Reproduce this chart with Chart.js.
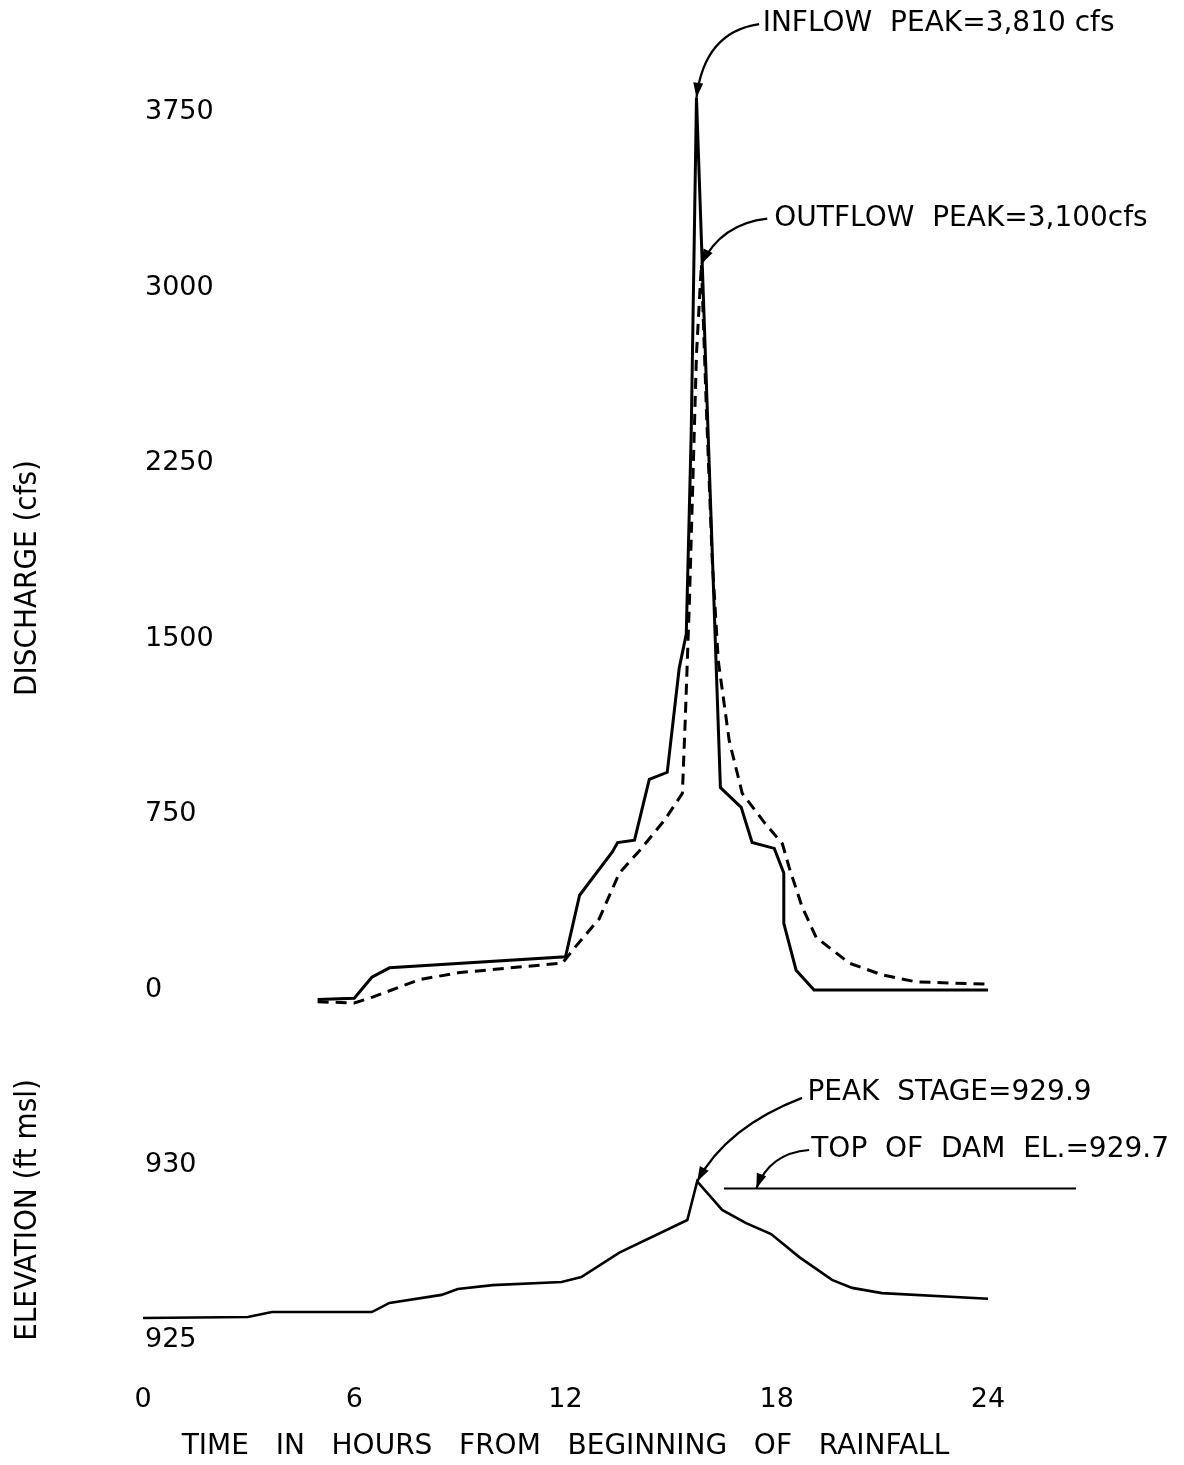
<!DOCTYPE html>
<html>
<head>
<meta charset="utf-8">
<script src="https://cdn.jsdelivr.net/npm/chart.js@4.4.1/dist/chart.umd.min.js"></script>
<style>
  html, body { margin: 0; padding: 0; background: #fff; }
  #wrap { position: relative; width: 1184px; height: 1465px; }
  canvas { position: absolute; left: 0; }
  #topChart { top: 0; }
  #bottomChart { top: 1040px; }
</style>
</head>
<body>
<div id="wrap">
  <canvas id="topChart" width="1184" height="1040"></canvas>
  <canvas id="bottomChart" width="1184" height="425"></canvas>
</div>
<script>
// Inflow hydrograph (solid line)
const inflowHours = [4.96, 6.0, 6.5, 7.0, 12.0, 12.4, 13.33, 13.48, 13.96, 14.38, 14.89, 15.23, 15.43, 15.57, 15.72,
                     16.4, 16.99, 17.3, 17.93, 18.2, 18.2, 18.55, 19.06, 24];
const inflowCfs = [-40, -35, 55, 95, 142, 405, 590, 630, 640, 900, 930, 1375, 1520, 2375, 3810,
                   865, 780, 630, 605, 500, 285, 85, 0, 0];

// Outflow hydrograph (dashed line)
const outflowHours = [4.96, 6.0, 6.52, 7.86, 9.0, 11.91, 12.31, 12.96, 13.53, 14.1, 14.81, 15.32, 15.4, 15.52, 15.72, 15.86,
                      16.0, 16.17, 16.34, 16.65, 17.02, 17.65, 18.16, 18.35, 18.72, 19.12, 20.06, 20.99, 21.96, 24];
const outflowCfs = [-50, -55, -30, 45, 75, 115, 190, 305, 500, 595, 725, 840, 1150, 1660, 2715, 3100,
                    2485, 1830, 1405, 1065, 840, 715, 625, 525, 355, 225, 115, 65, 35, 25];

// Reservoir stage
const stageHours = [0, 2.98, 3.66, 6.5, 7.0, 8.48, 8.94, 9.93, 11.89, 12.45, 13.53, 15.46, 15.74,
                    16.45, 17.13, 17.84, 18.64, 19.57, 20.14, 20.99, 24];
const stageFt = [926.0, 926.03, 926.17, 926.17, 926.43, 926.66, 926.83, 926.94, 927.03, 927.17, 927.87, 928.8, 929.9,
                 929.09, 928.71, 928.4, 927.74, 927.09, 926.86, 926.71, 926.55];

// Top of dam
const damHours = [16.5, 26.5];
const damFt = [929.7, 929.7];

// Tick labels
const hourTicks = [0, 6, 12, 18, 24];
const dischargeTicks = [0, 750, 1500, 2250, 3000, 3750];
const elevationTicks = [925, 930];

const toPoints = (xs, ys) => xs.map((x, i) => ({ x: x, y: ys[i] }));

const INK = '#000';
const labelFont = '"DejaVu Sans", sans-serif';
const narrowFont = '"DejaVu Sans Condensed", "DejaVu Sans", sans-serif';

// Callouts: text start, arrow start, curve bend and arrow tip, all in data units
const topNotes = [
    { text: 'INFLOW  PEAK=3,810 cfs', at: [17.6, 4125], from: [17.5, 4125], bend: [15.94, 4091], tip: [15.72, 3810] },
    { text: 'OUTFLOW  PEAK=3,100cfs', at: [17.93, 3294], from: [17.73, 3294], bend: [16.43, 3273], tip: [15.86, 3100] }
];
const bottomNotes = [
    { text: 'PEAK  STAGE=929.9', at: [18.87, 932.43], from: [18.72, 932.29], bend: [16.57, 931.46], tip: [15.74, 929.9] },
    { text: 'TOP  OF  DAM  EL.=929.7', at: [18.98, 930.8], from: [18.92, 930.8], bend: [17.79, 930.71], tip: [17.42, 929.7] }
];

function drawArrow(ctx, x0, y0, cx, cy, x1, y1) {
    ctx.beginPath();
    ctx.moveTo(x0, y0);
    ctx.quadraticCurveTo(cx, cy, x1, y1);
    ctx.stroke();
    const a = Math.atan2(y1 - cy, x1 - cx);
    const len = 15, half = 5;
    ctx.beginPath();
    ctx.moveTo(x1, y1);
    ctx.lineTo(x1 - len * Math.cos(a) + half * Math.sin(a), y1 - len * Math.sin(a) - half * Math.cos(a));
    ctx.lineTo(x1 - len * Math.cos(a) - half * Math.sin(a), y1 - len * Math.sin(a) + half * Math.cos(a));
    ctx.closePath();
    ctx.fill();
}

// Plugin drawing callouts and the rotated y axis title
function notesPlugin(notes, title, titleY) {
    return {
        id: 'notes',
        afterDraw(chart) {
            const ctx = chart.ctx;
            const xs = chart.scales.x, ys = chart.scales.y;
            const px = p => [xs.getPixelForValue(p[0]), ys.getPixelForValue(p[1])];
            ctx.save();
            ctx.fillStyle = INK;
            ctx.strokeStyle = INK;
            ctx.lineWidth = 2.2;
            ctx.font = '28px ' + labelFont;
            ctx.textAlign = 'left';
            ctx.textBaseline = 'middle';
            notes.forEach(n => {
                const [tx, ty] = px(n.at);
                ctx.fillText(n.text, tx, ty);
                const [x0, y0] = px(n.from);
                const [cx, cy] = px(n.bend);
                const [x1, y1] = px(n.tip);
                drawArrow(ctx, x0, y0, cx, cy, x1, y1);
            });
            ctx.translate(28, titleY);
            ctx.rotate(-Math.PI / 2);
            ctx.textAlign = 'center';
            ctx.font = '31px ' + narrowFont;
            ctx.fillText(title, 0, 0);
            ctx.restore();
        }
    };
}

const yAxisBase = {
    grid: { display: false, drawTicks: false },
    border: { display: false },
    afterFit: axis => { axis.width = 143; }
};

const plainLabel = v => String(v);

new Chart(document.getElementById('topChart'), {
    type: 'line',
    data: {
        datasets: [{
            label: 'Inflow',
            data: toPoints(inflowHours, inflowCfs),
            borderColor: INK,
            borderWidth: 3,
            pointRadius: 0,
            clip: false
        }, {
            label: 'Outflow',
            data: toPoints(outflowHours, outflowCfs),
            borderColor: INK,
            borderWidth: 3,
            borderDash: [11, 7],
            pointRadius: 0,
            clip: false
        }]
    },
    options: {
        responsive: false,
        animation: false,
        layout: { padding: { top: 16.1, bottom: 26.5, left: 0, right: 196 } },
        plugins: { legend: { display: false }, tooltip: { enabled: false } },
        scales: {
            x: { type: 'linear', min: 0, max: 24, display: false },
            y: {
                ...yAxisBase,
                min: -100,
                max: 4150,
                afterBuildTicks: axis => { axis.ticks = dischargeTicks.map(v => ({ value: v })); },
                ticks: { mirror: true, padding: 2, color: INK, callback: plainLabel, font: { family: labelFont, size: 27 } }
            }
        }
    },
    plugins: [notesPlugin(topNotes, 'DISCHARGE (cfs)', 578)]
});

new Chart(document.getElementById('bottomChart'), {
    type: 'line',
    data: {
        datasets: [{
            label: 'Stage',
            data: toPoints(stageHours, stageFt),
            borderColor: INK,
            borderWidth: 2.6,
            pointRadius: 0,
            clip: false
        }, {
            label: 'Top of dam',
            data: toPoints(damHours, damFt),
            borderColor: INK,
            borderWidth: 2.2,
            pointRadius: 0,
            clip: false
        }]
    },
    options: {
        responsive: false,
        animation: false,
        layout: { padding: { top: 50.5, bottom: 1.2, left: 0, right: 196 } },
        plugins: { legend: { display: false }, tooltip: { enabled: false } },
        scales: {
            x: {
                type: 'linear',
                min: 0,
                max: 24,
                grid: { display: false, drawTicks: false },
                border: { display: false },
                afterBuildTicks: axis => { axis.ticks = hourTicks.map(v => ({ value: v })); },
                ticks: { padding: 13.3, color: INK, maxRotation: 0, callback: plainLabel, font: { family: labelFont, size: 27 } },
                title: {
                    display: true,
                    text: 'TIME   IN   HOURS   FROM   BEGINNING   OF   RAINFALL',
                    color: INK,
                    padding: { top: 0.7, bottom: 0 },
                    font: { family: labelFont, size: 28 }
                }
            },
            y: {
                ...yAxisBase,
                min: 924.5,
                max: 932.5,
                afterBuildTicks: axis => { axis.ticks = elevationTicks.map(v => ({ value: v })); },
                ticks: { mirror: true, padding: 2, labelOffset: -13, color: INK, callback: plainLabel, font: { family: labelFont, size: 27 } }
            }
        }
    },
    plugins: [notesPlugin(bottomNotes, 'ELEVATION (ft msl)', 170)]
});
</script>
</body>
</html>
